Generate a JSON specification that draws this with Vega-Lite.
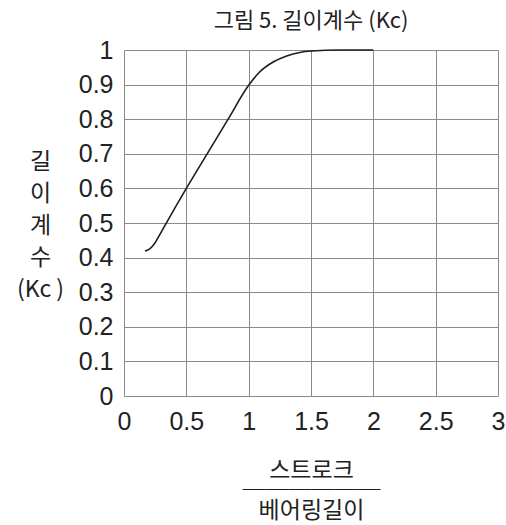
{
  "$schema": "https://vega.github.io/schema/vega-lite/v6.json",
  "autosize": "none",
  "width": 374,
  "height": 346,
  "padding": {"left": 124, "top": 50, "right": 8, "bottom": 129},
  "background": "white",
  "title": {
    "text": "그림 5. 길이계수 (Kc)",
    "font": "Noto Sans CJK KR",
    "fontSize": 22,
    "fontWeight": "normal",
    "color": "#222222",
    "anchor": "middle",
    "offset": 5
  },
  "config": {
    "view": {"stroke": null},
    "axis": {
      "grid": true,
      "gridColor": "#8a8a8a",
      "gridOpacity": 1,
      "gridWidth": 1,
      "domain": false,
      "ticks": false,
      "labelFont": "Liberation Sans",
      "labelFontSize": 25,
      "labelColor": "#222222",
      "titleColor": "#222222",
      "titleFont": "Noto Sans CJK KR",
      "titleFontWeight": "normal",
      "titleFontSize": 23
    }
  },
  "data": {
    "values": [
      {"ratio": 0.168, "kc": 0.419},
      {"ratio": 0.2, "kc": 0.424},
      {"ratio": 0.24, "kc": 0.438},
      {"ratio": 0.28, "kc": 0.462},
      {"ratio": 0.33, "kc": 0.494},
      {"ratio": 0.5, "kc": 0.6},
      {"ratio": 0.667, "kc": 0.7},
      {"ratio": 0.835, "kc": 0.8},
      {"ratio": 1.0, "kc": 0.898},
      {"ratio": 1.09, "kc": 0.937},
      {"ratio": 1.2, "kc": 0.966},
      {"ratio": 1.305, "kc": 0.983},
      {"ratio": 1.41, "kc": 0.993},
      {"ratio": 1.505, "kc": 0.997},
      {"ratio": 1.73, "kc": 1.0},
      {"ratio": 2.0, "kc": 1.0}
    ]
  },
  "mark": {"type": "line", "color": "#1e1e1e", "strokeWidth": 1.6, "interpolate": "monotone"},
  "encoding": {
    "x": {
      "field": "ratio",
      "type": "quantitative",
      "scale": {"domain": [0, 3], "nice": false},
      "axis": {
        "values": [0, 0.5, 1, 1.5, 2, 2.5, 3],
        "format": ".1~f",
        "labelPadding": 13,
        "labelFlush": false,
        "title": ["스트로크", "──────", "베어링길이"],
        "titleLineHeight": 20,
        "titleAlign": "center",
        "titleBaseline": "middle",
        "titleX": 187,
        "titleY": 74
      }
    },
    "y": {
      "field": "kc",
      "type": "quantitative",
      "scale": {"domain": [0, 1], "nice": false},
      "axis": {
        "values": [0, 0.1, 0.2, 0.3, 0.4, 0.5, 0.6, 0.7, 0.8, 0.9, 1],
        "format": ".1~f",
        "labelPadding": 11,
        "labelFlush": false,
        "title": ["길", "이", "계", "수", "(Kc )"],
        "titleAngle": 0,
        "titleAlign": "center",
        "titleBaseline": "middle",
        "titleLineHeight": 32,
        "titleX": -84,
        "titleY": 111
      }
    }
  }
}
